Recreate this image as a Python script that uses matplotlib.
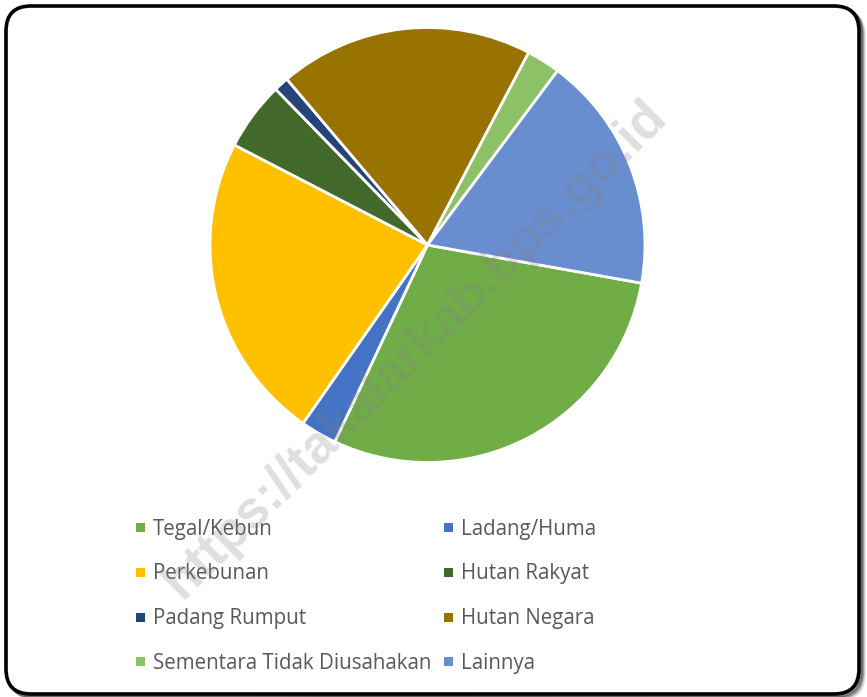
import matplotlib
import matplotlib.pyplot as plt
from matplotlib.patches import FancyBboxPatch, Rectangle

# land use shares (%)
labels = ["Tegal/Kebun", "Ladang/Huma", "Perkebunan", "Hutan Rakyat",
          "Padang Rumput", "Hutan Negara", "Sementara Tidak Diusahakan", "Lainnya"]
values = [29.2, 2.7, 22.9, 5.1, 1.1, 18.9, 2.5, 17.6]
colors = ["#70AD47", "#4472C4", "#FFC000", "#43682B",
          "#264478", "#997300", "#8CC168", "#698ED0"]

W, H = 867, 697
fig = plt.figure(figsize=(W / 100, H / 100), dpi=100)

# background axes in pixel coordinates (frame, shadow, legend)
bg = fig.add_axes([0, 0, 1, 1], zorder=0)
bg.set_xlim(0, W)
bg.set_ylim(H, 0)
bg.axis("off")

for off, a in [(5, 0.10), (4, 0.15), (3, 0.25), (2, 0.35)]:
    bg.add_patch(FancyBboxPatch((6 + 25 + off, 6 + 25 + off), 853 - 50, 688 - 50,
                                boxstyle="round,pad=25", fc="none", ec="black",
                                lw=2.6, alpha=a))
bg.add_patch(FancyBboxPatch((6 + 25, 6 + 25), 853 - 50, 688 - 50,
                            boxstyle="round,pad=25", fc="white", ec="black", lw=2.6))

# legend, row-wise in two columns
col_x = [140.5, 448.5]
for i, (lab, c) in enumerate(zip(labels, colors)):
    col, row = i % 2, i // 2
    y = 527.5 + row * 44.8
    bg.add_patch(Rectangle((col_x[col] - 4.5, y - 4.5), 9, 9, fc=c, ec="none"))
    bg.text(col_x[col] + 12.5, y + 7, lab, fontsize=14.8, family="Open Sans",
            color="#595959", va="baseline", ha="left")

# pie
cx, cy, r = 427.5, 245, 217.5
ax = fig.add_axes([(cx - r) / W, (H - cy - r) / H, 2 * r / W, 2 * r / H], zorder=1)
ax.pie(values, colors=colors, startangle=-10.1, counterclock=False,
       wedgeprops=dict(edgecolor="white", linewidth=2.0), radius=1)
ax.set_xlim(-1, 1)
ax.set_ylim(-1, 1)
ax.set_aspect("equal")
ax.axis("off")

# watermark
fig.text(0.479, 0.499, "https://takalarkab.bps.go.id", rotation=44.7,
         rotation_mode="anchor", ha="center", va="center", fontsize=38,
         fontweight="bold", family="Liberation Sans", color="#808080",
         alpha=0.25, zorder=5)

fig.savefig("out.png", dpi=100)
